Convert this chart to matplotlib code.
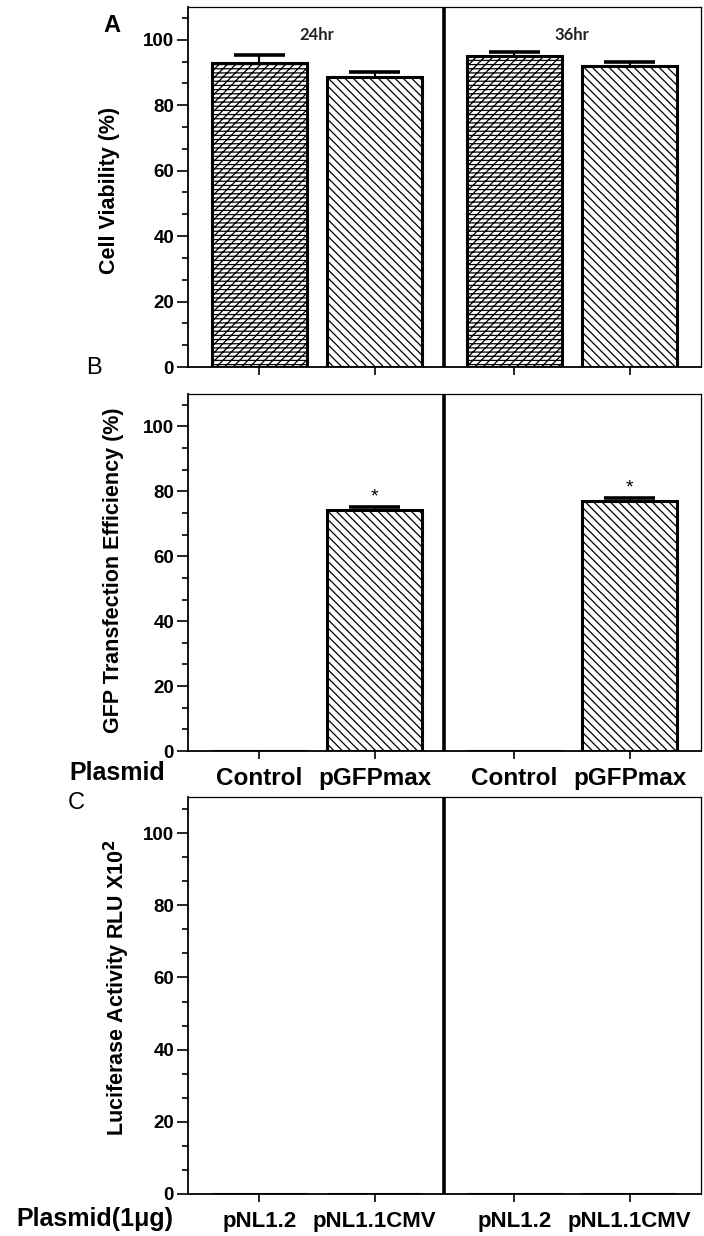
import numpy as np
import matplotlib
matplotlib.use('Agg')
import matplotlib.pyplot as plt
from matplotlib.ticker import MultipleLocator, AutoMinorLocator

plt.rcParams['font.family'] = ['Liberation Sans', 'DejaVu Sans']
plt.rcParams['hatch.linewidth'] = 0.9

# data
positions = [0, 1, 2.21, 3.21]
groups = ['24hr', '36hr']
plasmid_gfp = ['Control', 'pGFPmax', 'Control', 'pGFPmax']
plasmid_luc = ['pNL1.2', 'pNL1.1CMV', 'pNL1.2', 'pNL1.1CMV']

viability = [92.8, 88.7, 95.1, 92.0]
viability_err = [2.4, 1.3, 1.2, 1.1]

gfp_eff = [0, 74.3, 0, 77.1]
gfp_err = [0, 0.8, 0, 0.8]
gfp_sig = [False, True, False, True]

luc_act = [0, 0, 0, 0]
luc_err = [0, 0, 0, 0]

hatches = ['////----', '\\\\\\\\', '////----', '\\\\\\\\']

W, H = 704, 1236
fig = plt.figure(figsize=(W / 100, H / 100), dpi=100)


def px_axes(left, top, right, bottom):
    return fig.add_axes([left / W, 1 - bottom / H, (right - left) / W, (bottom - top) / H])


def style_axes(ax):
    ax.set_xlim(-0.617, 3.827)
    ax.set_ylim(0, 110)
    ax.yaxis.set_major_locator(MultipleLocator(20))
    ax.yaxis.set_minor_locator(AutoMinorLocator(3))
    ax.set_xticks(positions)
    ax.tick_params(axis='y', which='major', length=8, width=1.2, labelsize=13.5, pad=2)
    ax.tick_params(axis='y', which='minor', length=4, width=1.2)
    ax.tick_params(axis='x', which='major', length=5.5, width=1.2, pad=6)
    for lab in ax.get_yticklabels():
        lab.set_fontweight('bold')
    ax.spines['left'].set_linewidth(1.3)
    ax.spines['bottom'].set_linewidth(1.3)
    ax.spines['top'].set_linewidth(0.9)
    ax.spines['right'].set_linewidth(0.9)
    ax.axvline((positions[1] + positions[2]) / 2, color='black', lw=2.6)


def draw_bars(ax, vals, errs):
    bars = ax.bar(positions, vals, width=0.82, color='white', edgecolor='black',
                  linewidth=2.2, zorder=2)
    for b, h in zip(bars, hatches):
        b.set_hatch(h)
    vals = np.array(vals)
    errs = np.array(errs)
    show = errs > 0
    x = np.array(positions)[show]
    ax.vlines(x, vals[show], vals[show] + errs[show], color='black', lw=1.5, zorder=3)
    ax.hlines(vals[show] + errs[show], x - 0.22, x + 0.22, color='black', lw=2.6, zorder=3)


# panel A
axA = px_axes(188, 7, 701, 367)
style_axes(axA)
draw_bars(axA, viability, viability_err)
axA.set_xticklabels([])
for i, g in enumerate(groups):
    xc = (positions[2 * i] + positions[2 * i + 1]) / 2
    axA.text(xc, 101.5, g, ha='center', va='center', fontsize=12, fontweight='bold',
             family=['Lato', 'DejaVu Sans'], color='#222222')

# panel B
axB = px_axes(188, 394, 701, 751)
style_axes(axB)
draw_bars(axB, gfp_eff, gfp_err)
axB.set_xticklabels(plasmid_gfp, fontsize=17.5, fontweight='bold')
for x, v, e, s in zip(positions, gfp_eff, gfp_err, gfp_sig):
    if s:
        axB.text(x, v + e + 0.5, '*', ha='center', va='bottom', fontsize=14)

# panel C
axC = px_axes(188, 797, 701, 1194)
style_axes(axC)
draw_bars(axC, luc_act, luc_err)
axC.set_xticklabels(plasmid_luc, fontsize=16, fontweight='bold')
axC.tick_params(axis='x', pad=7)

# labels
fig.text(110 / W, 1 - 190 / H, 'Cell Viability (%)', rotation=90, ha='center', va='center',
         fontsize=15.5, fontweight='bold')
fig.text(114 / W, 1 - 570 / H, 'GFP Transfection Efficiency (%)', rotation=90, ha='center',
         va='center', fontsize=15.5, fontweight='bold')
fig.text(117 / W, 1 - 988 / H, r'Luciferase Activity RLU X10$^\mathbf{2}$', rotation=90,
         ha='center', va='center', fontsize=15.5, fontweight='bold')

fig.text(112 / W, 1 - 25 / H, 'A', ha='center', va='center', fontsize=17, fontweight='bold')
fig.text(94 / W, 1 - 368 / H, 'B', ha='center', va='center', fontsize=17)
fig.text(76 / W, 1 - 803 / H, 'C', ha='center', va='center', fontsize=17)

fig.text(117 / W, 1 - 773 / H, 'Plasmid', ha='center', va='center', fontsize=18,
         fontweight='bold')
fig.text(95 / W, 1 - 1219 / H, 'Plasmid(1μg)', ha='center', va='center', fontsize=18,
         fontweight='bold')

fig.savefig('out.png', dpi=100)
